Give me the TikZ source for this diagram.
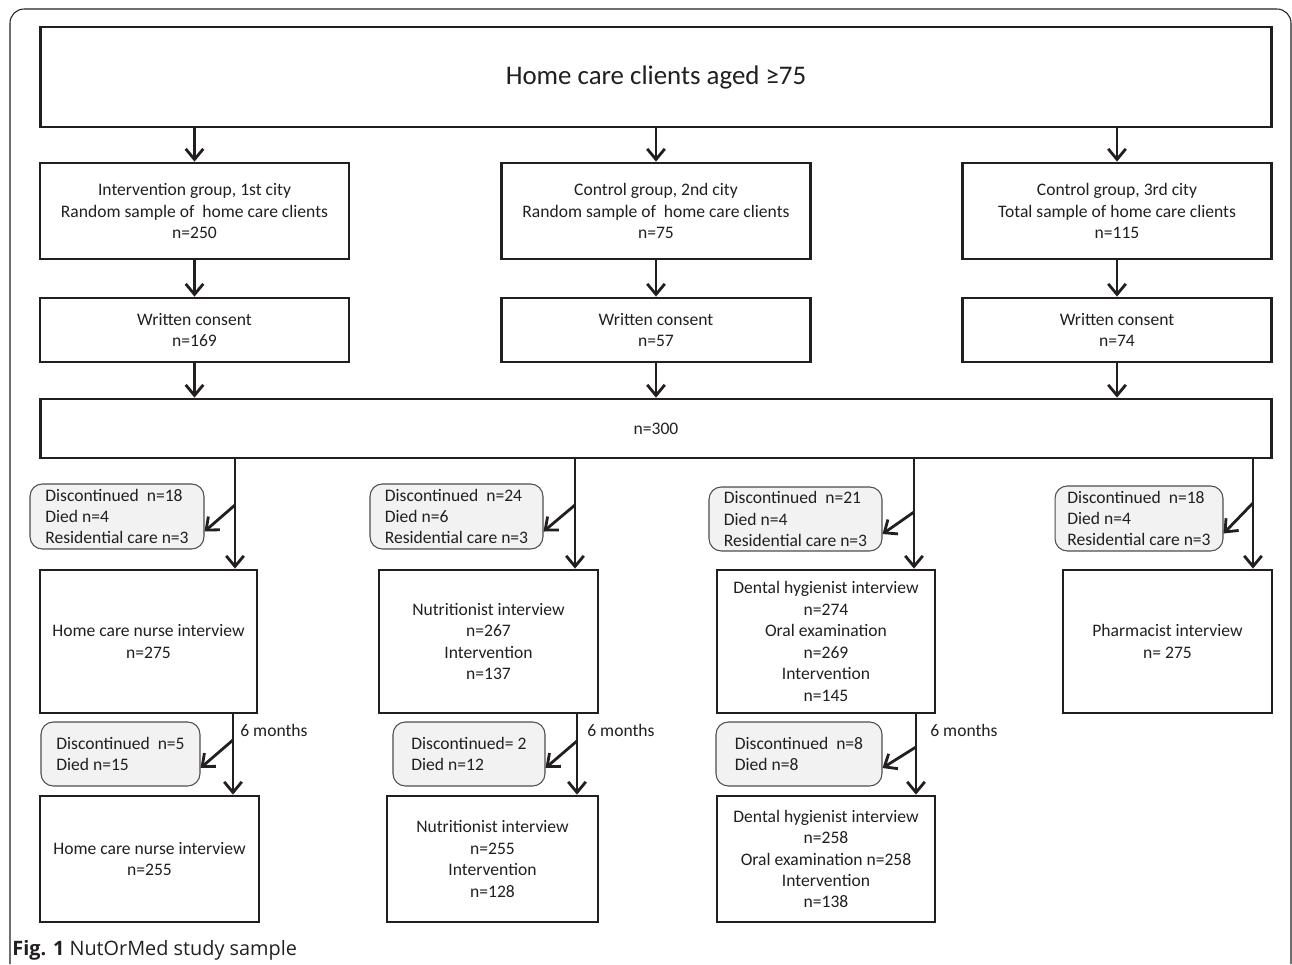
\documentclass[tikz,border=0pt]{standalone}
\usepackage{fontspec}
\setmainfont{Carlito}
\newfontfamily\capfont{Open Sans}
\usetikzlibrary{arrows.meta,positioning}
\definecolor{ink}{HTML}{231F20}
\definecolor{dropfill}{HTML}{F2F2F2}

\begin{document}
\begin{tikzpicture}[x=0.02cm, y=-0.02cm, font=\fontsize{10}{12.2}\selectfont, text=ink,
  box/.style={draw=ink, line width=1.6pt, fill=white, align=center, inner sep=2pt},
  dropbox/.style={draw=ink!80, line width=0.6pt, fill=dropfill, rounded corners=7pt,
    align=left, inner sep=2pt},
  flow/.style={draw=ink, line width=1.6pt, -{Straight Barb[length=6pt, width=10pt]}}]
\useasboundingbox (0,0) rectangle (1292,964);
% outer frame
\draw[ink, line width=0.6pt, rounded corners=8pt] (10,964) -- (10,9) -- (1291,9) -- (1291,964);

% population
\node[box, minimum width=24.64cm, minimum height=2cm, font=\fontsize{15.3}{18}\selectfont]
  (top) at (656,77) {Home care clients aged ≥75};

% samples per city
\node[box, minimum width=6.18cm, minimum height=1.92cm] (g1) at (194.5,211)
  {Intervention group, 1st city\\Random sample of\ \ home care clients\\n=250};
\node[box, minimum width=6.18cm, minimum height=1.92cm] (g2) at (656,211)
  {Control group, 2nd city\\Random sample of\ \ home care clients\\n=75};
\node[box, minimum width=6.18cm, minimum height=1.92cm] (g3) at (1117,211)
  {Control group, 3rd city\\Total sample of home care clients\\n=115};

\node[box, minimum width=6.18cm, minimum height=1.28cm] (c1) at (194.5,330) {Written consent\\n=169};
\node[box, minimum width=6.18cm, minimum height=1.28cm] (c2) at (656,330) {Written consent\\n=57};
\node[box, minimum width=6.18cm, minimum height=1.28cm] (c3) at (1117,330) {Written consent\\n=74};

\node[box, minimum width=24.64cm, minimum height=1.18cm] (all) at (656,428.5) {n=300};

% losses before baseline
\coordinate (s1) at (235,505);
\coordinate (s2) at (575,505);
\coordinate (s3) at (914,512);
\coordinate (s4) at (1253,503);
\node[dropbox, minimum width=3.48cm, minimum height=1.3cm] (d1) at (117,516.5)
  {Discontinued\ \ n=18\\Died n=4\\Residential care n=3};
\node[dropbox, minimum width=3.46cm, minimum height=1.3cm] (d2) at (456.5,516.5)
  {Discontinued\ \ n=24\\Died n=6\\Residential care n=3};
\node[dropbox, minimum width=3.46cm, minimum height=1.28cm] (d3) at (795.5,519)
  {Discontinued\ \ n=21\\Died n=4\\Residential care n=3};
\node[dropbox, minimum width=3.36cm, minimum height=1.3cm] (d4) at (1139,518.5)
  {Discontinued\ \ n=18\\Died n=4\\Residential care n=3};

% baseline interviews
\node[box, minimum width=4.34cm, minimum height=2.86cm] (i1) at (148.5,641.5)
  {Home care nurse interview\\n=275};
\node[box, minimum width=4.38cm, minimum height=2.86cm] (i2) at (488.5,641.5)
  {Nutritionist interview\\n=267\\Intervention\\n=137};
\node[box, minimum width=4.36cm, minimum height=2.86cm] (i3) at (826,641.5)
  {Dental hygienist interview\\n=274\\Oral examination\\n=269\\Intervention\\n=145};
\node[box, minimum width=4.18cm, minimum height=2.86cm] (i4) at (1167.5,641.5)
  {Pharmacist interview\\n=\ 275};

% losses during follow-up
\coordinate (t1) at (233,740);
\coordinate (t2) at (577,741);
\coordinate (t3) at (916,747);
\node[dropbox, minimum width=3.18cm, minimum height=1.28cm] (e1) at (120.5,754)
  {Discontinued\ \ n=5\\Died n=15};
\node[dropbox, minimum width=3.04cm, minimum height=1.28cm] (e2) at (469,754)
  {Discontinued= 2\\Died n=12};
\node[dropbox, minimum width=3.32cm, minimum height=1.28cm] (e3) at (799,754)
  {Discontinued\ \ n=8\\Died n=8};
\node[anchor=west, inner sep=0pt] (m1) at (240,730) {6 months};
\node[anchor=west, inner sep=0pt] (m2) at (587,730) {6 months};
\node[anchor=west, inner sep=0pt] (m3) at (930,730) {6 months};

% follow-up interviews
\node[box, minimum width=4.38cm, minimum height=2.52cm] (f1) at (149.5,859)
  {Home care nurse interview\\n=255};
\node[box, minimum width=4.22cm, minimum height=2.52cm] (f2) at (492.5,859)
  {Nutritionist interview\\n=255\\Intervention\\n=128};
\node[box, minimum width=4.36cm, minimum height=2.52cm] (f3) at (826,859)
  {Dental hygienist interview\\n=258\\Oral examination n=258\\Intervention\\n=138};

% arrows
\foreach \n in {1,2,3} {
  \draw[flow] (top.south -| g\n.north) -- (g\n.north);
  \draw[flow] (g\n) -- (c\n);
  \draw[flow] (c\n.south) -- (all.north -| c\n.south);
}
\foreach \n in {1,...,4} {
  \draw[flow] (all.south -| s\n) -- (i\n.north -| s\n);
  \draw[flow] (s\n) -- ([yshift=-0.3cm]d\n.east);
}
\foreach \n in {1,2,3} {
  \draw[flow] (i\n.south -| t\n) -- (f\n.north -| t\n);
  \draw[flow] (t\n) -- ([yshift=-0.28cm]e\n.east);
}

\node[anchor=base west, inner sep=0pt, font=\capfont\fontsize{11.3}{13}\selectfont] (cap)
  at (12,955) {\textbf{Fig. 1} NutOrMed study sample};
\end{tikzpicture}
\end{document}
